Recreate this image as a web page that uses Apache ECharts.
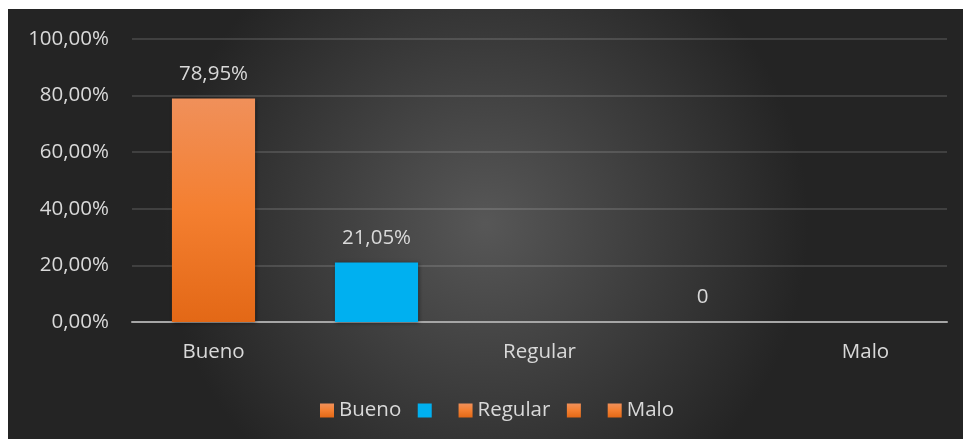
<!DOCTYPE html>
<html>
<head>
<meta charset="utf-8">
<script src="https://cdn.jsdelivr.net/npm/echarts@6/dist/echarts.min.js"></script>
<style>
html,body{margin:0;padding:0;background:#ffffff;width:963px;height:439px;overflow:hidden;}
#chart{position:absolute;left:8px;top:9px;width:955px;height:430px;}
</style>
</head>
<body>
<div id="chart"></div>
<script>
// Data
const categories = ['Bueno', ' ', 'Regular', '  ', 'Malo'];
const seriesNames = ['Bueno', 's2', 'Regular', 's4', 'Malo'];
const values = [78.95, 21.05, null, 0, null];
const yTicks = [0, 20, 40, 60, 80, 100];

const orange = {
  type: 'linear', x: 0, y: 0, x2: 0, y2: 1,
  colorStops: [
    { offset: 0, color: '#f0905a' },
    { offset: 0.5, color: '#f47f30' },
    { offset: 1, color: '#e36816' }
  ]
};
const blue = '#00b0f0';
const colors = [orange, blue, orange, orange, orange];
const FONT = 'Open Sans';
const FS = 20.5;

function fmt(v) {
  if (v === 0) return '0';
  return v.toFixed(2).replace('.', ',') + '%';
}

const series = seriesNames.map((name, i) => ({
  name: name,
  type: 'bar',
  stack: 'all',
  barCategoryGap: '49%',
  data: categories.map((c, j) => (j === i ? values[i] : null)),
  itemStyle: {
    color: colors[i],
    shadowBlur: 4,
    shadowColor: 'rgba(0,0,0,0.45)',
    shadowOffsetX: 1,
    shadowOffsetY: 1
  },
  label: {
    show: true,
    position: 'top',
    distance: 14,
    color: '#d9d9d9',
    fontFamily: FONT,
    fontSize: FS,
    formatter: p => (p.value === null || p.value === undefined ? '' : fmt(p.value))
  }
}));

const chart = echarts.init(document.getElementById('chart'));
chart.setOption({
  animation: false,
  backgroundColor: {
    type: 'radial', x: 0.5, y: 0.5, r: 0.75,
    colorStops: [
      { offset: 0, color: '#575757' },
      { offset: 1, color: '#242424' }
    ]
  },
  grid: { left: 124, right: 16, top: 30, bottom: 117 },
  legend: {
    left: 307,
    top: 386,
    itemWidth: 14,
    itemHeight: 14,
    itemGap: 16.5,
    icon: 'rect',
    data: seriesNames,
    formatter: n => (n === 's2' || n === 's4' ? ' ' : n),
    textStyle: { color: '#d9d9d9', fontFamily: FONT, fontSize: FS }
  },
  xAxis: {
    type: 'category',
    data: categories,
    axisLine: { lineStyle: { color: '#a6a6a6', width: 2 } },
    axisTick: { show: false },
    axisLabel: { color: '#d9d9d9', fontFamily: FONT, fontSize: FS, margin: 20 }
  },
  yAxis: {
    type: 'value',
    min: yTicks[0],
    max: yTicks[yTicks.length - 1],
    interval: 20,
    axisLine: { show: false },
    axisTick: { show: false },
    axisLabel: {
      color: '#d9d9d9', fontFamily: FONT, fontSize: FS, margin: 23,
      formatter: v => v.toFixed(2).replace('.', ',') + '%'
    },
    splitLine: { lineStyle: { color: 'rgba(255,255,255,0.13)', width: 2 } }
  },
  series: series
});
</script>
</body>
</html>
